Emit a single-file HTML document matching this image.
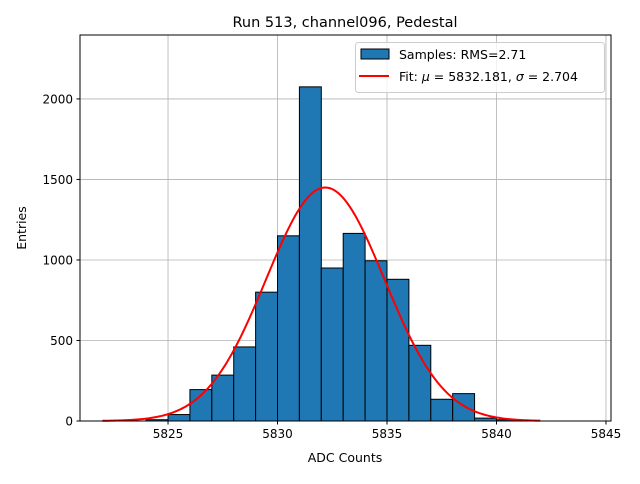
<!DOCTYPE html>
<html><head><meta charset="utf-8"><style>
body{margin:0;background:#fff;font-family:"DejaVu Sans","Liberation Sans",sans-serif}
</style></head><body>
<svg id="c" width="640" height="480" xmlns="http://www.w3.org/2000/svg" font-family="DejaVu Sans, Liberation Sans, sans-serif">
<rect width="640" height="480" fill="#fff"/>
<g id="grid"></g><g id="bars"></g><g id="fit"></g><g id="axes"></g>
<text x="345" y="27" text-anchor="middle" font-size="14.5">Run 513, channel096, Pedestal</text>
<text x="345" y="462" text-anchor="middle" font-size="12.5">ADC Counts</text>
<text x="26" y="228" text-anchor="middle" font-size="12.5" transform="rotate(-90 26 228)">Entries</text>
<g>
<rect x="355.5" y="42.5" width="249" height="50" rx="3" fill="#fff" fill-opacity="0.8" stroke="#ccc"/>
<rect x="361" y="49" width="28" height="10" fill="#1f77b4" stroke="#000"/>
<text x="399" y="59" font-size="12.5">Samples: RMS=2.71</text>
<line x1="359" y1="76" x2="389" y2="76" stroke="red" stroke-width="2"/>
<text x="399" y="81" font-size="12.5">Fit: <tspan font-style="italic">μ</tspan> = 5832.181, <tspan font-style="italic">σ</tspan> = 2.704</text>
</g>
</svg>
<script>
const binStarts=[5824,5825,5826,5827,5828,5829,5830,5831,5832,5833,5834,5835,5836,5837,5838,5839,5840];
const counts=[8,40,195,285,460,800,1150,2075,950,1165,995,880,470,135,170,18,8];
const xTicks=[5825,5830,5835,5840,5845];
const yTicks=[0,500,1000,1500,2000];
const fitMu=5832.181, fitSigma=2.704, fitAmp=1450;
const L=80,R=611,T=35,B=421, xmin=5820.98,xmax=5845.23,ymin=0,ymax=2397;
const X=v=>L+(v-xmin)/(xmax-xmin)*(R-L);
const Y=v=>B-(v-ymin)/(ymax-ymin)*(B-T);
const NS='http://www.w3.org/2000/svg';
function mk(t,a,p){const e=document.createElementNS(NS,t);for(const k in a)e.setAttribute(k,a[k]);p.appendChild(e);return e;}
const grid=document.getElementById('grid'),bars=document.getElementById('bars'),fit=document.getElementById('fit'),axes=document.getElementById('axes');
xTicks.forEach(v=>{const g=mk('line',{x1:X(v),x2:X(v),y1:T,y2:B,stroke:'#b0b0b0','stroke-width':0.8},grid);


mk('line',{x1:X(v),x2:X(v),y1:B,y2:B+3.5,stroke:'#000'},axes);
const t=mk('text',{x:X(v),y:B+17,'text-anchor':'middle','font-size':12},axes);t.textContent=v;

});
yTicks.forEach(v=>{const g=mk('line',{x1:L,x2:R,y1:Y(v),y2:Y(v),stroke:'#b0b0b0','stroke-width':0.8},grid);


mk('line',{x1:L-3.5,x2:L,y1:Y(v),y2:Y(v),stroke:'#000'},axes);
const t=mk('text',{x:L-7,y:Y(v)+4.5,'text-anchor':'end','font-size':12},axes);t.textContent=v;

});
binStarts.forEach((s,i)=>{const r=mk('rect',{x:X(s),y:Y(counts[i]),width:X(s+1)-X(s),height:Y(0)-Y(counts[i]),fill:'#1f77b4',stroke:'#000','stroke-width':1},bars);

});
let d='';for(let i=0;i<=200;i++){const x=5822+20*i/200;const y=fitAmp*Math.exp(-0.5*((x-fitMu)/fitSigma)**2);d+=(i?'L':'M')+X(x).toFixed(2)+','+Y(y).toFixed(2);}
const p=mk('path',{d:d,fill:'none',stroke:'red','stroke-width':2},fit);


const f=mk('rect',{x:L,y:T,width:R-L,height:B-T,fill:'none',stroke:'#000','stroke-width':1},axes);


</script>
</body></html>
